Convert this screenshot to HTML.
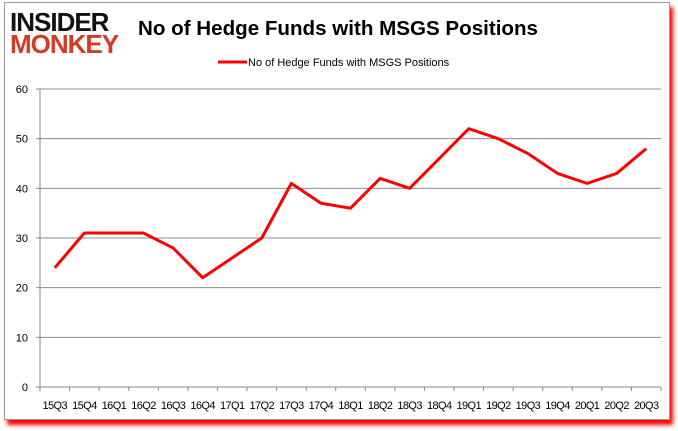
<!DOCTYPE html>
<html><head><meta charset="utf-8"><style>
body{margin:0;background:#fff;width:678px;height:431px;overflow:hidden;font-family:"Liberation Sans",sans-serif}
#frame{position:absolute;left:4px;top:2px;width:664px;height:416px;border:1px solid #999;background:#fff;box-shadow:3px 5px 4px #f00}
</style></head><body>
<div id="frame"></div>
<svg width="678" height="431" style="position:absolute;left:0;top:0">
<text x="10" y="31" font-size="26" font-weight="bold" fill="#111" font-family="Liberation Sans" letter-spacing="-1">INSIDER</text>
<text x="10" y="53" font-size="26" font-weight="bold" fill="#d33b25" font-family="Liberation Sans" letter-spacing="-1">MONKEY</text>
<text x="138" y="35" font-size="20" font-weight="bold" fill="#000" textLength="400" lengthAdjust="spacingAndGlyphs">No of Hedge Funds with MSGS Positions</text>
<line x1="218" y1="62" x2="247" y2="62" stroke="#f00" stroke-width="3"/>
<text x="248" y="66" font-size="11" fill="#000">No of Hedge Funds with MSGS Positions</text>
<g id="g"></g>
</svg>
<script>
const categories=["15Q3","15Q4","16Q1","16Q2","16Q3","16Q4","17Q1","17Q2","17Q3","17Q4","18Q1","18Q2","18Q3","18Q4","19Q1","19Q2","19Q3","19Q4","20Q1","20Q2","20Q3"];
const values=[24,31,31,31,28,22,26,30,41,37,36,42,40,46,52,50,47,43,41,43,48];
const yTicks=[0,10,20,30,40,50,60];
const L=40,R=661,T=89,B=387,ymax=60;
const step=(R-L)/categories.length;
const x=i=>L+step*(i+0.5);
const y=v=>B-(v/ymax)*(B-T);
const g=document.getElementById('g');
const NS="http://www.w3.org/2000/svg";
function mk(t,a){const e=document.createElementNS(NS,t);for(const k in a)e.setAttribute(k,a[k]);g.appendChild(e);return e;}
yTicks.forEach(v=>{
 const l=mk('line',{x1:L-4,x2:R,y1:y(v),y2:y(v),stroke:v===0?'#888':'#8c8c8c','stroke-width':1});
 
 
 const t=mk('text',{x:L-12,y:y(v)+4,'font-size':11,'text-anchor':'end'});t.textContent=v;
 
 
});
const ax=mk('line',{x1:L,x2:L,y1:T,y2:B,stroke:'#888'});


categories.forEach((c,i)=>{
 const tk=mk('line',{x1:L+step*i,x2:L+step*i,y1:B,y2:B+4,stroke:'#888'});
 
 
 const t=mk('text',{x:x(i),y:409,'font-size':11,'text-anchor':'middle','letter-spacing':'-0.6'});t.textContent=c;
 
 
});
const tk=mk('line',{x1:R,x2:R,y1:B,y2:B+4,stroke:'#888'});


const p=mk('polyline',{points:values.map((v,i)=>x(i)+','+y(v)).join(' '),fill:'none',stroke:'#f00','stroke-width':3,'stroke-linejoin':'round'});


</script>
</body></html>
